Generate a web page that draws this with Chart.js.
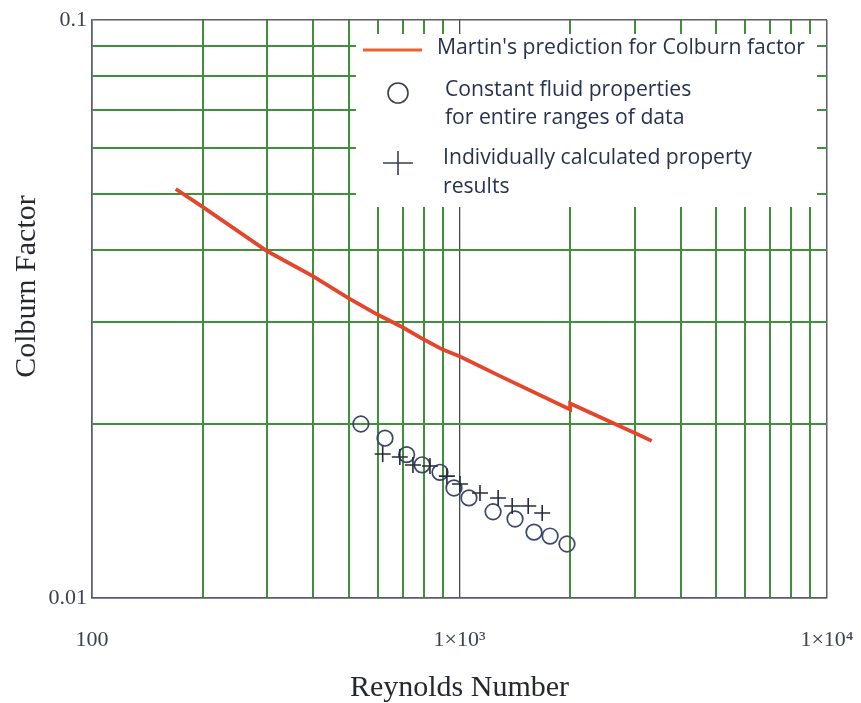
<!DOCTYPE html>
<html><head><meta charset="utf-8">
<script src="https://cdn.jsdelivr.net/npm/chart.js@4/dist/chart.umd.min.js"></script>
<style>html,body{margin:0;padding:0;background:#fff}</style>
</head><body>
<canvas id="c" width="861" height="703"></canvas>
<script>
// ---- data ----
const martinRe = [169, 200, 300, 400, 500, 600, 700, 800, 900, 1000, 1290, 2000, 2000, 3000, 3334];
const martinJ  = [0.0510, 0.0475, 0.0398, 0.0360, 0.0330, 0.0309, 0.0294, 0.0280, 0.0269, 0.0262, 0.0242, 0.0212, 0.0217, 0.0193, 0.0187];
const constRe  = [539, 627, 718, 791, 885, 966, 1061, 1234, 1416, 1595, 1764, 1961];
const constJ   = [0.0200, 0.0189, 0.0177, 0.0170, 0.0165, 0.0155, 0.0149, 0.0141, 0.0137, 0.0130, 0.0128, 0.0124];
const indivRe  = [618, 688, 747, 831, 924, 1003, 1137, 1274, 1391, 1538, 1679];
const indivJ   = [0.01775, 0.01754, 0.01699, 0.01692, 0.01625, 0.01575, 0.01519, 0.01489, 0.01443, 0.01443, 0.01403];
const xTicks = [100,200,300,400,500,600,700,800,900,1000,2000,3000,4000,5000,6000,7000,8000,9000,10000];
const yTicks = [0.01,0.02,0.03,0.04,0.05,0.06,0.07,0.08,0.09,0.1];
const xTickLabels = {100:'100', 1000:'1×10³', 10000:'1×10⁴'};
const yTickLabels = {0.01:'0.01', 0.1:'0.1'};
const legendLabels = [
  ["Martin's prediction for Colburn factor"],
  ["Constant fluid properties", "for entire ranges of data"],
  ["Individually calculated property", "results"]
];
const xTitle = 'Reynolds Number';
const yTitle = 'Colburn Factor';

const pts = (xs, ys) => xs.map((x, i) => ({x: x, y: ys[i]}));
const GREEN = '#3f8f3b';
const EDGE = '#5b5d6a';
const SERIF = '"Liberation Serif", "Times New Roman", serif';

const legendPlugin = {
  id: 'boxLegend',
  beforeDatasetsDraw(chart) {
    const c = chart.ctx;
    c.save();
    c.fillStyle = '#ffffff';
    c.fillRect(356, 34, 461, 173);
    c.restore();
  },
  afterDraw(chart) {
    const c = chart.ctx;
    c.save();
    c.font = '20px "Open Sans"';
    const w = c.measureText(legendLabels[0][0]).width;
    const fs = 20 * 368 / w;
    c.font = fs.toFixed(2) + 'px "Open Sans"';
    c.fillStyle = '#27324f';
    c.textBaseline = 'middle';
    c.textAlign = 'left';
    c.strokeStyle = '#ee5f35';
    c.lineWidth = 3;
    c.beginPath(); c.moveTo(363, 50); c.lineTo(422, 50); c.stroke();
    c.fillText(legendLabels[0][0], 437, 48);
    c.strokeStyle = '#3a3f4c';
    c.lineWidth = 1.6;
    c.beginPath(); c.arc(398, 93, 10, 0, Math.PI * 2); c.stroke();
    c.fillText(legendLabels[1][0], 445, 90);
    c.fillText(legendLabels[1][1], 445, 118);
    c.beginPath();
    c.moveTo(383, 163); c.lineTo(413, 163);
    c.moveTo(398, 151); c.lineTo(398, 175);
    c.stroke();
    c.fillText(legendLabels[2][0], 443, 158);
    c.fillText(legendLabels[2][1], 443, 187);
    c.restore();
  }
};

const gridColor = (isEdge, special) => (ctx) => {
  const v = ctx.tick ? ctx.tick.value : null;
  if (isEdge(v)) return EDGE;
  if (v === special) return '#48484c';
  return GREEN;
};
const gridWidth = (isEdge, special) => (ctx) => {
  const v = ctx.tick ? ctx.tick.value : null;
  if (isEdge(v)) return 1.5;
  if (v === special) return 1.3;
  return 2;
};

new Chart(document.getElementById('c'), {
  type: 'scatter',
  data: {
    datasets: [
      {
        label: legendLabels[0][0],
        data: pts(martinRe, martinJ),
        showLine: true,
        borderColor: '#e4452b',
        borderWidth: 3.8,
        pointRadius: 0,
        tension: 0,
        order: 3
      },
      {
        label: legendLabels[1].join(' '),
        data: pts(constRe, constJ),
        pointStyle: 'circle',
        pointRadius: 7.8,
        backgroundColor: 'rgba(0,0,0,0)',
        borderColor: '#3b4769',
        borderWidth: 1.7,
        order: 2
      },
      {
        label: legendLabels[2].join(' '),
        data: pts(indivRe, indivJ),
        pointStyle: 'cross',
        pointRadius: 8,
        borderColor: '#262b3a',
        borderWidth: 1.6,
        order: 1
      }
    ]
  },
  options: {
    responsive: false,
    animation: false,
    devicePixelRatio: 1,
    layout: {padding: {left: 0, top: 20, right: 34, bottom: 0}},
    plugins: {legend: {display: false}, tooltip: {enabled: false}},
    scales: {
      x: {
        type: 'logarithmic',
        min: 100, max: 10000,
        afterBuildTicks: (s) => { s.ticks = xTicks.map(v => ({value: v})); },
        afterFit: (s) => { s.height = 105; s.paddingLeft = 0; s.paddingRight = 0; },
        grid: {
          drawTicks: false,
          color: gridColor(v => v === 100 || v === 10000, 1000),
          lineWidth: gridWidth(v => v === 100 || v === 10000, 1000)
        },
        border: {display: true, color: EDGE, width: 1.5},
        ticks: {
          autoSkip: false, maxRotation: 0, padding: 29,
          color: '#3b4150',
          font: {family: SERIF, size: 22},
          callback: (v) => xTickLabels[v] || ''
        },
        title: {
          display: true, text: xTitle, color: '#26282f',
          font: {family: SERIF, size: 30, lineHeight: 1},
          padding: {top: 0, bottom: 0}
        }
      },
      y: {
        type: 'logarithmic',
        min: 0.01, max: 0.1,
        afterBuildTicks: (s) => { s.ticks = yTicks.map(v => ({value: v})); },
        afterFit: (s) => { s.width = 92; s.paddingTop = 0; s.paddingBottom = 0; },
        grid: {
          drawTicks: false,
          color: gridColor(v => v === 0.01 || v === 0.1, -1),
          lineWidth: gridWidth(v => v === 0.01 || v === 0.1, -1)
        },
        border: {display: true, color: EDGE, width: 1.5},
        ticks: {
          autoSkip: false, padding: 5,
          color: '#3b4150',
          font: {family: SERIF, size: 22},
          callback: (v) => yTickLabels[v] || ''
        },
        title: {
          display: true, text: '      ' + yTitle, color: '#26282f',
          font: {family: SERIF, size: 30, lineHeight: 1},
          padding: {top: 12, bottom: 0}
        }
      }
    }
  },
  plugins: [legendPlugin]
});
</script>
</body></html>
